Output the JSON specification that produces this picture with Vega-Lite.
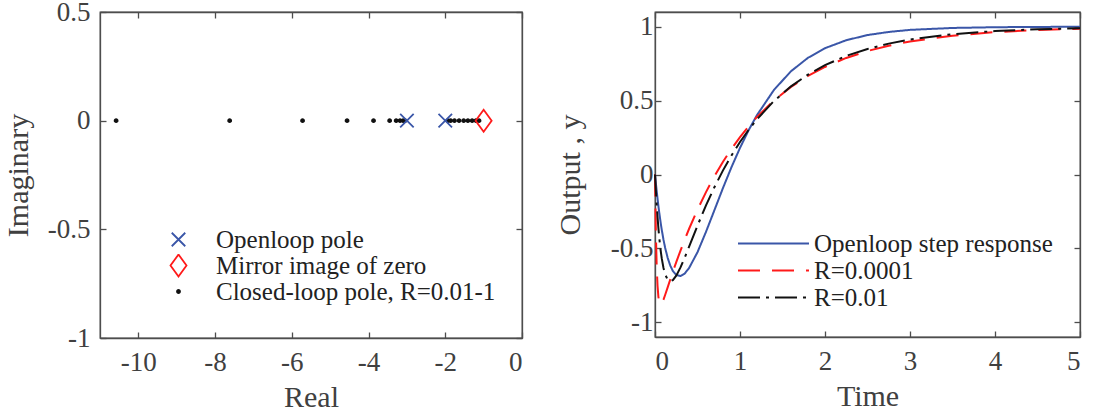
{
 "$schema": "https://vega.github.io/schema/vega-lite/v6.json",
 "background": "white",
 "padding": {"left": 2, "top": -3, "right": 5, "bottom": 0},
 "spacing": 30,
 "config": {
  "font": "Liberation Serif",
  "view": {"stroke": "#4d4d4d", "strokeWidth": 1.3},
  "axis": {"labelFont": "Liberation Serif", "titleFont": "Liberation Serif", "labelFontSize": 27, "titleFontSize": 30, "titleFontWeight": "normal", "labelColor": "#404040", "titleColor": "#404040", "domainColor": "#4d4d4d", "tickColor": "#4d4d4d", "tickSize": -6, "grid": false, "domainWidth": 1.3, "tickWidth": 1.3, "labelPadding": 16},
  "legend": {"labelFont": "Liberation Serif", "labelFontSize": 25, "labelColor": "#222222", "padding": 0, "labelLimit": 500}
 },
 "resolve": {"scale": {"color": "independent", "shape": "independent", "fill": "independent", "strokeDash": "independent"}},
 "datasets": {
  "poles": [
   {"re": -10.58, "im": 0, "type": "Closed-loop pole, R=0.01-1"},
   {"re": -7.62, "im": 0, "type": "Closed-loop pole, R=0.01-1"},
   {"re": -5.72, "im": 0, "type": "Closed-loop pole, R=0.01-1"},
   {"re": -4.56, "im": 0, "type": "Closed-loop pole, R=0.01-1"},
   {"re": -3.87, "im": 0, "type": "Closed-loop pole, R=0.01-1"},
   {"re": -3.45, "im": 0, "type": "Closed-loop pole, R=0.01-1"},
   {"re": -3.28, "im": 0, "type": "Closed-loop pole, R=0.01-1"},
   {"re": -3.18, "im": 0, "type": "Closed-loop pole, R=0.01-1"},
   {"re": -3.1, "im": 0, "type": "Closed-loop pole, R=0.01-1"},
   {"re": -3.05, "im": 0, "type": "Closed-loop pole, R=0.01-1"},
   {"re": -1.93, "im": 0, "type": "Closed-loop pole, R=0.01-1"},
   {"re": -1.86, "im": 0, "type": "Closed-loop pole, R=0.01-1"},
   {"re": -1.76, "im": 0, "type": "Closed-loop pole, R=0.01-1"},
   {"re": -1.64, "im": 0, "type": "Closed-loop pole, R=0.01-1"},
   {"re": -1.52, "im": 0, "type": "Closed-loop pole, R=0.01-1"},
   {"re": -1.41, "im": 0, "type": "Closed-loop pole, R=0.01-1"},
   {"re": -1.3, "im": 0, "type": "Closed-loop pole, R=0.01-1"},
   {"re": -1.2, "im": 0, "type": "Closed-loop pole, R=0.01-1"},
   {"re": -1.12, "im": 0, "type": "Closed-loop pole, R=0.01-1"},
   {"re": -3, "im": 0, "type": "Openloop pole"},
   {"re": -2, "im": 0, "type": "Openloop pole"},
   {"re": -1, "im": 0, "type": "Mirror image of zero"}
  ],
  "steps": [
   {"t":0,"y":0,"s":"Openloop step response"},{"t":0.01,"y":-0.058,"s":"Openloop step response"},{"t":0.02,"y":-0.113,"s":"Openloop step response"},{"t":0.03,"y":-0.164,"s":"Openloop step response"},{"t":0.04,"y":-0.213,"s":"Openloop step response"},{"t":0.05,"y":-0.258,"s":"Openloop step response"},{"t":0.06,"y":-0.3,"s":"Openloop step response"},{"t":0.07,"y":-0.34,"s":"Openloop step response"},{"t":0.08,"y":-0.376,"s":"Openloop step response"},{"t":0.1,"y":-0.442,"s":"Openloop step response"},{"t":0.12,"y":-0.498,"s":"Openloop step response"},{"t":0.15,"y":-0.566,"s":"Openloop step response"},{"t":0.18,"y":-0.617,"s":"Openloop step response"},{"t":0.21,"y":-0.653,"s":"Openloop step response"},{"t":0.25,"y":-0.68,"s":"Openloop step response"},{"t":0.3,"y":-0.687,"s":"Openloop step response"},{"t":0.35,"y":-0.67,"s":"Openloop step response"},{"t":0.4,"y":-0.634,"s":"Openloop step response"},{"t":0.5,"y":-0.526,"s":"Openloop step response"},{"t":0.6,"y":-0.388,"s":"Openloop step response"},{"t":0.7,"y":-0.24,"s":"Openloop step response"},{"t":0.8,"y":-0.091,"s":"Openloop step response"},{"t":0.9,"y":0.05,"s":"Openloop step response"},{"t":1.0,"y":0.18,"s":"Openloop step response"},{"t":1.1,"y":0.298,"s":"Openloop step response"},{"t":1.2,"y":0.402,"s":"Openloop step response"},{"t":1.4,"y":0.573,"s":"Openloop step response"},{"t":1.6,"y":0.699,"s":"Openloop step response"},{"t":1.8,"y":0.79,"s":"Openloop step response"},{"t":2.0,"y":0.855,"s":"Openloop step response"},{"t":2.25,"y":0.909,"s":"Openloop step response"},{"t":2.5,"y":0.944,"s":"Openloop step response"},{"t":2.75,"y":0.965,"s":"Openloop step response"},{"t":3.0,"y":0.979,"s":"Openloop step response"},{"t":3.5,"y":0.992,"s":"Openloop step response"},{"t":4.0,"y":0.997,"s":"Openloop step response"},{"t":4.5,"y":0.999,"s":"Openloop step response"},{"t":5.0,"y":1.0,"s":"Openloop step response"},
   {"t":0,"y":0,"s":"R=0.0001"},{"t":0.01,"y":-0.393,"s":"R=0.0001"},{"t":0.02,"y":-0.623,"s":"R=0.0001"},{"t":0.03,"y":-0.755,"s":"R=0.0001"},{"t":0.04,"y":-0.828,"s":"R=0.0001"},{"t":0.05,"y":-0.864,"s":"R=0.0001"},{"t":0.06,"y":-0.878,"s":"R=0.0001"},{"t":0.07,"y":-0.879,"s":"R=0.0001"},{"t":0.08,"y":-0.873,"s":"R=0.0001"},{"t":0.1,"y":-0.847,"s":"R=0.0001"},{"t":0.12,"y":-0.814,"s":"R=0.0001"},{"t":0.15,"y":-0.762,"s":"R=0.0001"},{"t":0.18,"y":-0.71,"s":"R=0.0001"},{"t":0.21,"y":-0.659,"s":"R=0.0001"},{"t":0.25,"y":-0.593,"s":"R=0.0001"},{"t":0.3,"y":-0.515,"s":"R=0.0001"},{"t":0.35,"y":-0.44,"s":"R=0.0001"},{"t":0.4,"y":-0.369,"s":"R=0.0001"},{"t":0.5,"y":-0.238,"s":"R=0.0001"},{"t":0.6,"y":-0.119,"s":"R=0.0001"},{"t":0.7,"y":-0.011,"s":"R=0.0001"},{"t":0.8,"y":0.086,"s":"R=0.0001"},{"t":0.9,"y":0.174,"s":"R=0.0001"},{"t":1.0,"y":0.253,"s":"R=0.0001"},{"t":1.1,"y":0.325,"s":"R=0.0001"},{"t":1.2,"y":0.39,"s":"R=0.0001"},{"t":1.4,"y":0.501,"s":"R=0.0001"},{"t":1.6,"y":0.593,"s":"R=0.0001"},{"t":1.8,"y":0.667,"s":"R=0.0001"},{"t":2.0,"y":0.728,"s":"R=0.0001"},{"t":2.25,"y":0.789,"s":"R=0.0001"},{"t":2.5,"y":0.836,"s":"R=0.0001"},{"t":2.75,"y":0.872,"s":"R=0.0001"},{"t":3.0,"y":0.901,"s":"R=0.0001"},{"t":3.5,"y":0.94,"s":"R=0.0001"},{"t":4.0,"y":0.964,"s":"R=0.0001"},{"t":4.5,"y":0.978,"s":"R=0.0001"},{"t":5.0,"y":0.987,"s":"R=0.0001"},
   {"t":0,"y":0,"s":"R=0.01"},{"t":0.01,"y":-0.109,"s":"R=0.01"},{"t":0.02,"y":-0.205,"s":"R=0.01"},{"t":0.03,"y":-0.289,"s":"R=0.01"},{"t":0.04,"y":-0.363,"s":"R=0.01"},{"t":0.05,"y":-0.427,"s":"R=0.01"},{"t":0.06,"y":-0.482,"s":"R=0.01"},{"t":0.07,"y":-0.529,"s":"R=0.01"},{"t":0.08,"y":-0.57,"s":"R=0.01"},{"t":0.1,"y":-0.633,"s":"R=0.01"},{"t":0.12,"y":-0.677,"s":"R=0.01"},{"t":0.15,"y":-0.713,"s":"R=0.01"},{"t":0.18,"y":-0.723,"s":"R=0.01"},{"t":0.21,"y":-0.715,"s":"R=0.01"},{"t":0.25,"y":-0.685,"s":"R=0.01"},{"t":0.3,"y":-0.629,"s":"R=0.01"},{"t":0.35,"y":-0.562,"s":"R=0.01"},{"t":0.4,"y":-0.49,"s":"R=0.01"},{"t":0.5,"y":-0.346,"s":"R=0.01"},{"t":0.6,"y":-0.209,"s":"R=0.01"},{"t":0.7,"y":-0.085,"s":"R=0.01"},{"t":0.8,"y":0.028,"s":"R=0.01"},{"t":0.9,"y":0.129,"s":"R=0.01"},{"t":1.0,"y":0.22,"s":"R=0.01"},{"t":1.1,"y":0.301,"s":"R=0.01"},{"t":1.2,"y":0.374,"s":"R=0.01"},{"t":1.4,"y":0.498,"s":"R=0.01"},{"t":1.6,"y":0.597,"s":"R=0.01"},{"t":1.8,"y":0.676,"s":"R=0.01"},{"t":2.0,"y":0.74,"s":"R=0.01"},{"t":2.25,"y":0.803,"s":"R=0.01"},{"t":2.5,"y":0.85,"s":"R=0.01"},{"t":2.75,"y":0.886,"s":"R=0.01"},{"t":3.0,"y":0.914,"s":"R=0.01"},{"t":3.5,"y":0.95,"s":"R=0.01"},{"t":4.0,"y":0.971,"s":"R=0.01"},{"t":4.5,"y":0.983,"s":"R=0.01"},{"t":5.0,"y":0.99,"s":"R=0.01"}
  ]
 },
 "hconcat": [
  {
   "width": 422, "height": 326,
   "data": {"name": "poles"},
   "resolve": {"axis": {"x": "independent", "y": "independent"}},
   "layer": [
    {
     "mark": {"type": "point", "filled": false, "strokeWidth": 1.8, "opacity": 1, "size": 100},
     "encoding": {
      "x": {"field": "re", "type": "quantitative", "scale": {"domain": [-11, 0], "nice": false, "zero": false}, "axis": {"values": [-10, -8, -6, -4, -2, 0], "title": "Real", "labelExpr": "datum.value + ''", "labelPadding": 17, "titlePadding": 7}},
      "y": {"field": "im", "type": "quantitative", "scale": {"domain": [-1, 0.5], "nice": false, "zero": false}, "axis": {"values": [-1, -0.5, 0, 0.5], "title": "Imaginary", "labelExpr": "datum.value + ''", "titlePadding": 14}},
      "shape": {"field": "type", "type": "nominal", "scale": {"domain": ["Openloop pole", "Mirror image of zero", "Closed-loop pole, R=0.01-1"], "range": ["M-1.35,-1.35L1.35,1.35M-1.35,1.35L1.35,-1.35", "M0,-2.2L1.6,0L0,2.2L-1.6,0Z", "M-0.3,0A0.3,0.3,0,1,0,0.3,0A0.3,0.3,0,1,0,-0.3,0Z"]}, "legend": {"orient": "none", "legendX": 66, "legendY": 216, "title": null, "labelOffset": 25, "rowPadding": 0, "clipHeight": 23, "symbolStrokeWidth": 1.8}},
      "color": {"field": "type", "type": "nominal", "scale": {"domain": ["Openloop pole", "Mirror image of zero", "Closed-loop pole, R=0.01-1"], "range": ["#3a56a8", "#ff1a1a", "#111111"]}},
      "fill": {"field": "type", "type": "nominal", "scale": {"domain": ["Openloop pole", "Mirror image of zero", "Closed-loop pole, R=0.01-1"], "range": ["rgba(255,255,255,0)", "rgba(255,255,255,0)", "#111111"]}}
     }
    },
    {
     "mark": {"type": "point", "opacity": 0},
     "encoding": {
      "x": {"field": "re", "type": "quantitative", "axis": {"orient": "top", "values": [-10, -8, -6, -4, -2, 0], "labels": false, "title": null}},
      "y": {"field": "im", "type": "quantitative", "axis": {"orient": "right", "values": [-1, -0.5, 0, 0.5], "labels": false, "title": null}}
     }
    }
   ]
  },
  {
   "width": 425, "height": 325,
   "data": {"name": "steps"},
   "resolve": {"axis": {"x": "independent", "y": "independent"}},
   "layer": [
    {
     "mark": {"type": "line", "strokeWidth": 2},
     "encoding": {
      "x": {"field": "t", "type": "quantitative", "scale": {"domain": [0, 5], "nice": false}, "axis": {"values": [0, 1, 2, 3, 4, 5], "title": "Time", "labelPadding": 17, "titlePadding": 7}},
      "y": {"field": "y", "type": "quantitative", "scale": {"domain": [-1.1, 1.1], "nice": false, "zero": false}, "axis": {"values": [-1, -0.5, 0, 0.5, 1], "title": "Output , y", "labelExpr": "datum.value + ''", "labelPadding": 8, "titlePadding": 25}},
      "color": {"field": "s", "type": "nominal", "scale": {"domain": ["Openloop step response", "R=0.0001", "R=0.01"], "range": ["#3a56a8", "#ff1a1a", "#111111"]}, "legend": {"orient": "none", "legendX": 82, "legendY": 218, "title": null, "symbolType": "stroke", "symbolSize": 5041, "symbolStrokeWidth": 2, "labelOffset": 4, "rowPadding": 0, "clipHeight": 27}},
      "strokeDash": {"field": "s", "type": "nominal", "scale": {"domain": ["Openloop step response", "R=0.0001", "R=0.01"], "range": [[1, 0], [22, 12], [22, 6, 3, 6]]}},
      "order": {"field": "t", "type": "quantitative"}
     }
    },
    {
     "mark": {"type": "point", "opacity": 0},
     "encoding": {
      "x": {"field": "t", "type": "quantitative", "axis": {"orient": "top", "values": [0, 1, 2, 3, 4, 5], "labels": false, "title": null}},
      "y": {"field": "y", "type": "quantitative", "axis": {"orient": "right", "values": [-1, -0.5, 0, 0.5, 1], "labels": false, "title": null}}
     }
    }
   ]
  }
 ]
}
